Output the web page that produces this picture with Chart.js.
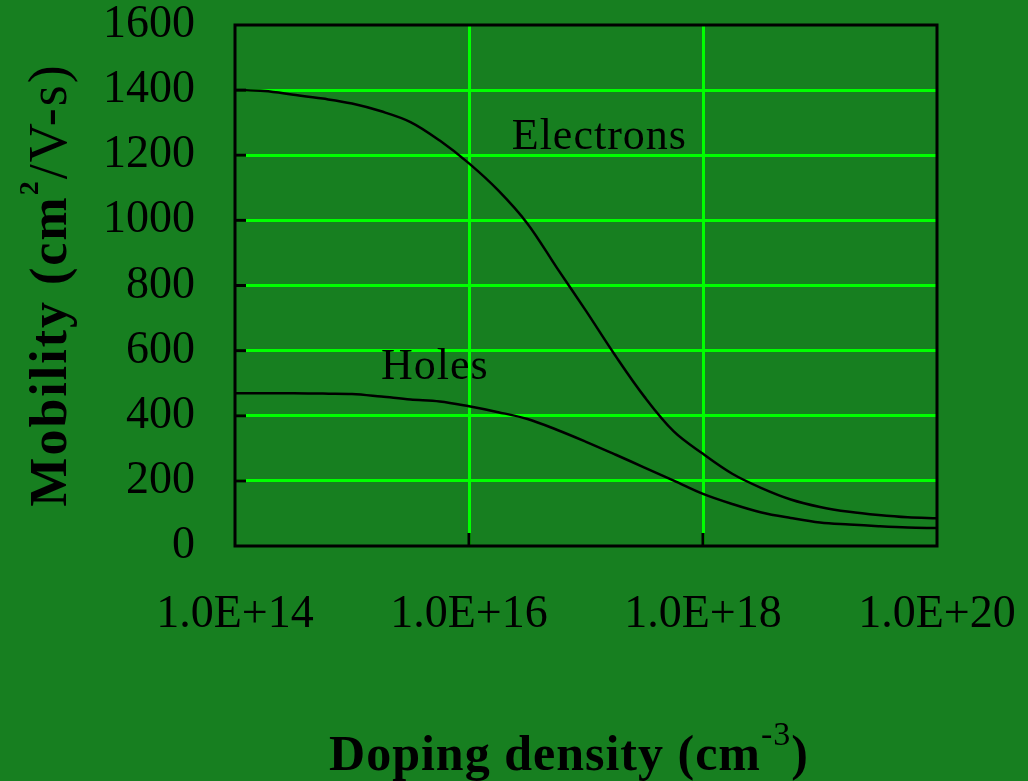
<!DOCTYPE html>
<html><head><meta charset="utf-8">
<script src="https://cdn.jsdelivr.net/npm/chart.js@4/dist/chart.umd.min.js"></script>
<style>html,body{margin:0;padding:0;background:#177f20;overflow:hidden}#wrap{width:1028px;height:781px;position:relative}canvas{display:block}</style>
</head><body><div id="wrap"><canvas id="c" width="1028" height="781"></canvas></div>
<script>
// Doping density exponents (cm^-3 = 10^exp)
const dopingExponents = [14,14.25,14.5,14.75,15,15.25,15.5,15.75,16,16.25,16.5,16.75,17,17.25,17.5,17.75,18,18.25,18.5,18.75,19,19.25,19.5,19.75,20];
const electronMobility = [1400,1397,1386,1374,1359,1335,1302,1245,1175,1092,990,855,722,585,458,352,283,222,178,143,120,105,95,88,85];
const holeMobility = [469,469,469,468,467,459,450,444,429,411,390,357,320,281,241,201,160,129,103,86,72,66,61,57,55];
const seriesNames = ['Electrons','Holes'];
const xTickValues = [1e14,1e16,1e18,1e20];
const xTickLabels = ['1.0E+14','1.0E+16','1.0E+18','1.0E+20'];
const yTickValues = [0,200,400,600,800,1000,1200,1400,1600];
const yTickLabels = ['0','200','400','600','800','1000','1200','1400','1600'];
// curve label anchors in data coordinates [x, y]
const seriesLabelAnchors = [[1.3e17,1219],[5.1e15,513]];
const xTitleParts = ['Doping density (cm','-3',')'];
const yTitleParts = ['Mobility (cm','2','/V-s)'];

const BG = '#177f20', GRID = '#00ff00', INK = '#000000';
const SERIF = '"Liberation Serif", "Times New Roman", serif';

const toXY = (vals) => dopingExponents.map((e,i)=>({x: Math.pow(10,e), y: vals[i]}));

function setSpacing(ctx, v){ if ('letterSpacing' in ctx) ctx.letterSpacing = v; }

const framePlugin = {
  id: 'frame',
  beforeDraw(chart){
    const c = chart.ctx; c.save(); c.fillStyle = BG; c.fillRect(0,0,chart.width,chart.height); c.restore();
  },
  beforeDatasetsDraw(chart){
    const {ctx, chartArea:a, scales:{x,y}} = chart;
    ctx.save(); ctx.strokeStyle = INK; ctx.lineWidth = 3; ctx.lineCap='butt';
    yTickValues.forEach(v=>{ if(v<=0||v>=1600) return; const py=y.getPixelForValue(v);
      ctx.beginPath(); ctx.moveTo(a.left,py); ctx.lineTo(a.left+11,py); ctx.stroke(); });
    xTickValues.forEach(v=>{ if(v<=xTickValues[0]||v>=xTickValues[xTickValues.length-1]) return; const px=x.getPixelForValue(v);
      ctx.beginPath(); ctx.moveTo(px,a.bottom); ctx.lineTo(px,a.bottom-13); ctx.stroke(); });
    ctx.restore();
  },
  afterDatasetsDraw(chart){
    const {ctx, chartArea:a, scales:{x,y}} = chart;
    ctx.save();
    ctx.strokeStyle = INK; ctx.lineWidth = 3;
    ctx.strokeRect(a.left, a.top, a.right-a.left, a.bottom-a.top);
    ctx.fillStyle = INK; ctx.font = '44px '+SERIF; ctx.textAlign='center'; ctx.textBaseline='alphabetic';
    setSpacing(ctx, '1px');
    seriesNames.forEach((n,i)=>{ const [vx,vy]=seriesLabelAnchors[i];
      ctx.fillText(n, x.getPixelForValue(vx), y.getPixelForValue(vy)); });
    // X title
    const fMain = 'bold 50px '+SERIF, fSupX = '34px '+SERIF;
    ctx.textAlign='left';
    setSpacing(ctx, '1px');
    ctx.font=fMain; const w0=ctx.measureText(xTitleParts[0]).width, w2=ctx.measureText(xTitleParts[2]).width;
    ctx.font=fSupX; const w1=ctx.measureText(xTitleParts[1]).width;
    let sx = 569 - (w0+w1+w2)/2, by = 770;
    ctx.font=fMain; ctx.fillText(xTitleParts[0], sx, by); sx+=w0;
    ctx.font=fSupX; ctx.fillText(xTitleParts[1], sx, by-25); sx+=w1;
    ctx.font=fMain; ctx.fillText(xTitleParts[2], sx, by);
    // Y title (rotated)
    const fMainY = 'bold 52px '+SERIF, fSupY = 'bold 28px '+SERIF, fTail = '54px '+SERIF;
    setSpacing(ctx, '2px');
    ctx.translate(66, 285); ctx.rotate(-Math.PI/2);
    ctx.font=fMainY; const u0=ctx.measureText(yTitleParts[0]).width;
    ctx.font=fSupY; const u1=ctx.measureText(yTitleParts[1]).width;
    ctx.font=fTail; const u2=ctx.measureText(yTitleParts[2]).width;
    let tx = -(u0+u1+u2)/2;
    ctx.font=fMainY; ctx.fillText(yTitleParts[0], tx, 0); tx+=u0;
    ctx.font=fSupY; ctx.fillText(yTitleParts[1], tx, -28); tx+=u1;
    ctx.font=fTail; ctx.fillText(yTitleParts[2], tx, 0);
    ctx.restore();
  }
};

const zeroPad = (s) => { s.paddingTop = 0; s.paddingBottom = 0; s.paddingLeft = 0; s.paddingRight = 0; };

new Chart(document.getElementById('c'), {
  type: 'line',
  data: { datasets: [
    { label: seriesNames[0], data: toXY(electronMobility), borderColor: INK, borderWidth: 2.5, pointRadius: 0, tension: 0.35, fill: false },
    { label: seriesNames[1], data: toXY(holeMobility), borderColor: INK, borderWidth: 2.5, pointRadius: 0, tension: 0.35, fill: false }
  ]},
  options: {
    responsive: false, animation: false, devicePixelRatio: 1,
    layout: { padding: { top: 25, right: 91, left: 0, bottom: 0 } },
    plugins: { legend: { display: false }, tooltip: { enabled: false }, title: { display: false } },
    scales: {
      x: {
        type: 'logarithmic', min: xTickValues[0], max: xTickValues[xTickValues.length-1],
        afterBuildTicks: (s) => { s.ticks = xTickValues.map(v=>({value:v})); },
        afterFit: (s) => { s.height = 235; zeroPad(s); },
        ticks: { autoSkip: false, maxRotation: 0, minRotation: 0, padding: 41, color: INK,
          font: { family: SERIF, size: 46 },
          callback: (v, i) => xTickLabels[i] },
        grid: { drawTicks: false, lineWidth: 3,
          color: (c) => (c.tick && (c.tick.value <= xTickValues[0] || c.tick.value >= xTickValues[xTickValues.length-1])) ? 'rgba(0,0,0,0)' : GRID },
        border: { display: false }
      },
      y: {
        type: 'linear', min: 0, max: 1600,
        afterBuildTicks: (s) => { s.ticks = yTickValues.map(v=>({value:v})); },
        afterFit: (s) => { s.width = 235; zeroPad(s); },
        ticks: { padding: 40, color: INK, font: { family: SERIF, size: 46 },
          callback: (v, i) => yTickLabels[i] },
        grid: { drawTicks: false, lineWidth: 3,
          color: (c) => (c.tick && (c.tick.value <= 0 || c.tick.value >= 1600)) ? 'rgba(0,0,0,0)' : GRID },
        border: { display: false }
      }
    }
  },
  plugins: [framePlugin]
});
</script>
</body></html>
